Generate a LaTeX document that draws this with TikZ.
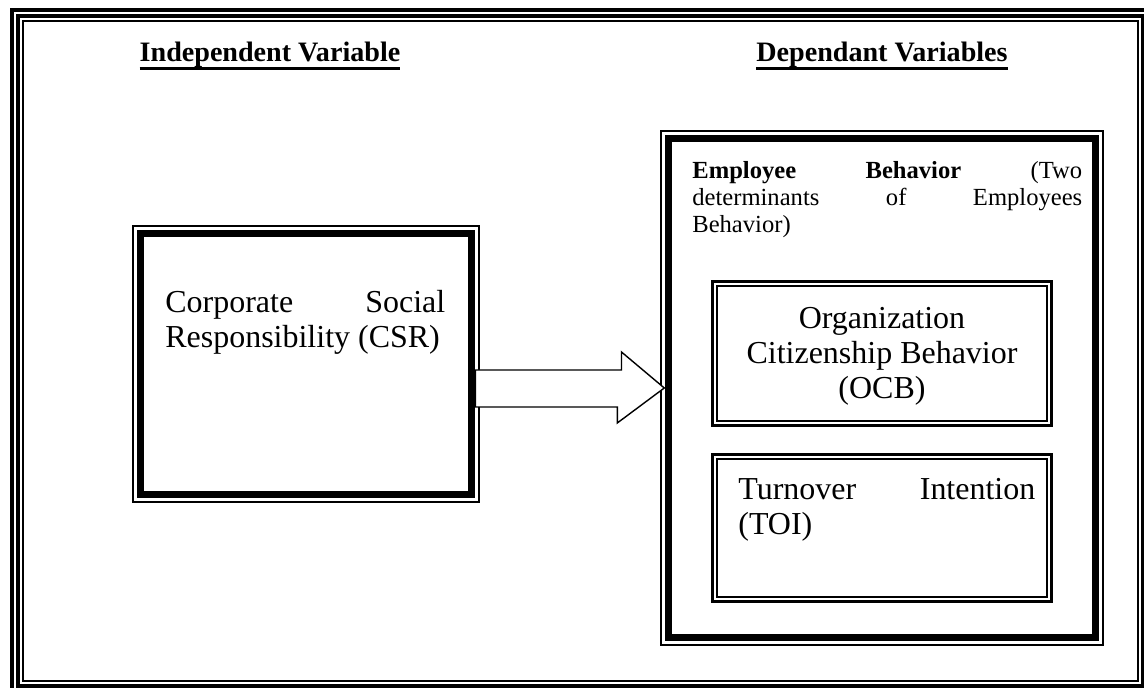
\documentclass[tikz,border=0pt]{standalone}
\usepackage{fontspec}
\setmainfont{Liberation Serif}
\usetikzlibrary{calc}

% heavy underline for the two headings
\newcommand\thickul[1]{\setbox0\hbox{#1}\leavevmode\rlap{\vrule height -2.8pt depth 4.6pt width \wd0}\box0}

\begin{document}
\begin{tikzpicture}[
    x=0.02cm, y=-0.02cm,
    heading/.style={font=\fontsize{16}{19}\selectfont\bfseries, inner sep=0, anchor=base},
    body/.style={font=\fontsize{18.2}{19.8}\selectfont, inner sep=0},
    note/.style={font=\fontsize{14}{15.4}\selectfont, inner sep=0},
    hairbox/.style={draw, line width=0.85pt, inner sep=0},
    heavybox/.style={draw, line width=4pt, inner sep=0},
    midbox/.style={draw, line width=1.7pt, inner sep=0},
    blockarrow/.style={draw, fill=white, line width=0.8pt, line join=miter}
]
\useasboundingbox (0,0) rectangle (1144,688);

% page frame
\draw[line width=2.3pt] (12,10) rectangle (1149,692);
\draw[line width=2.3pt] (18,16) rectangle (1143,686);
\draw[line width=1.1pt] (23,21) rectangle (1138,681);

% headings
\node[heading] (indep) at (270,62) {\thickul{Independent Variable}};
\node[heading] (dep) at (882,62) {\thickul{Dependant Variables}};

% independent variable
\node[hairbox, minimum width=6.92cm, minimum height=5.52cm] (csr) at (306,364) {};
\node[heavybox, minimum width=6.64cm, minimum height=5.24cm] (csr-in) at (306,364) {};
\node[body, text width=5.6cm, align=justify, anchor=north west] (csr-text) at (165,290)
    {Corporate Social\linebreak Responsibility (CSR)};

% dependent variables
\node[hairbox, minimum width=8.84cm, minimum height=10.28cm] (emp) at (882,388) {};
\node[heavybox, minimum width=8.56cm, minimum height=10cm] (emp-in) at (882,388) {};
\node[note, text width=7.8cm, align=justify, anchor=north west] (emp-text) at (692,161)
    {\textbf{Employee Behavior} (Two\linebreak determinants of Employees\linebreak Behavior)};

\node[midbox, minimum width=6.8cm, minimum height=2.9cm] (ocb) at (882,353.5) {};
\node[hairbox, minimum width=6.6cm, minimum height=2.7cm] (ocb-in) at (882,353.5) {};
\node[body, align=center, anchor=north] (ocb-text) at (882,307)
    {Organization\\Citizenship Behavior\\(OCB)};

\node[midbox, minimum width=6.8cm, minimum height=2.96cm] (toi) at (882,528) {};
\node[hairbox, minimum width=6.6cm, minimum height=2.76cm] (toi-in) at (882,528) {};
\node[body, text width=5.94cm, align=justify, anchor=north west] (toi-text) at (738,478)
    {Turnover Intention\linebreak (TOI)};

% block arrow
\draw[blockarrow] ($(csr-in.east |- emp.west)+(0,-18)$) -- ++(146,0) -- ++(0,-18)
    -- ($(emp.west)+(4,0)$) -- ++(-47,35) -- ++(0,-16) -- ($(csr-in.east |- emp.west)+(0,19)$) -- cycle;
\end{tikzpicture}
\end{document}
